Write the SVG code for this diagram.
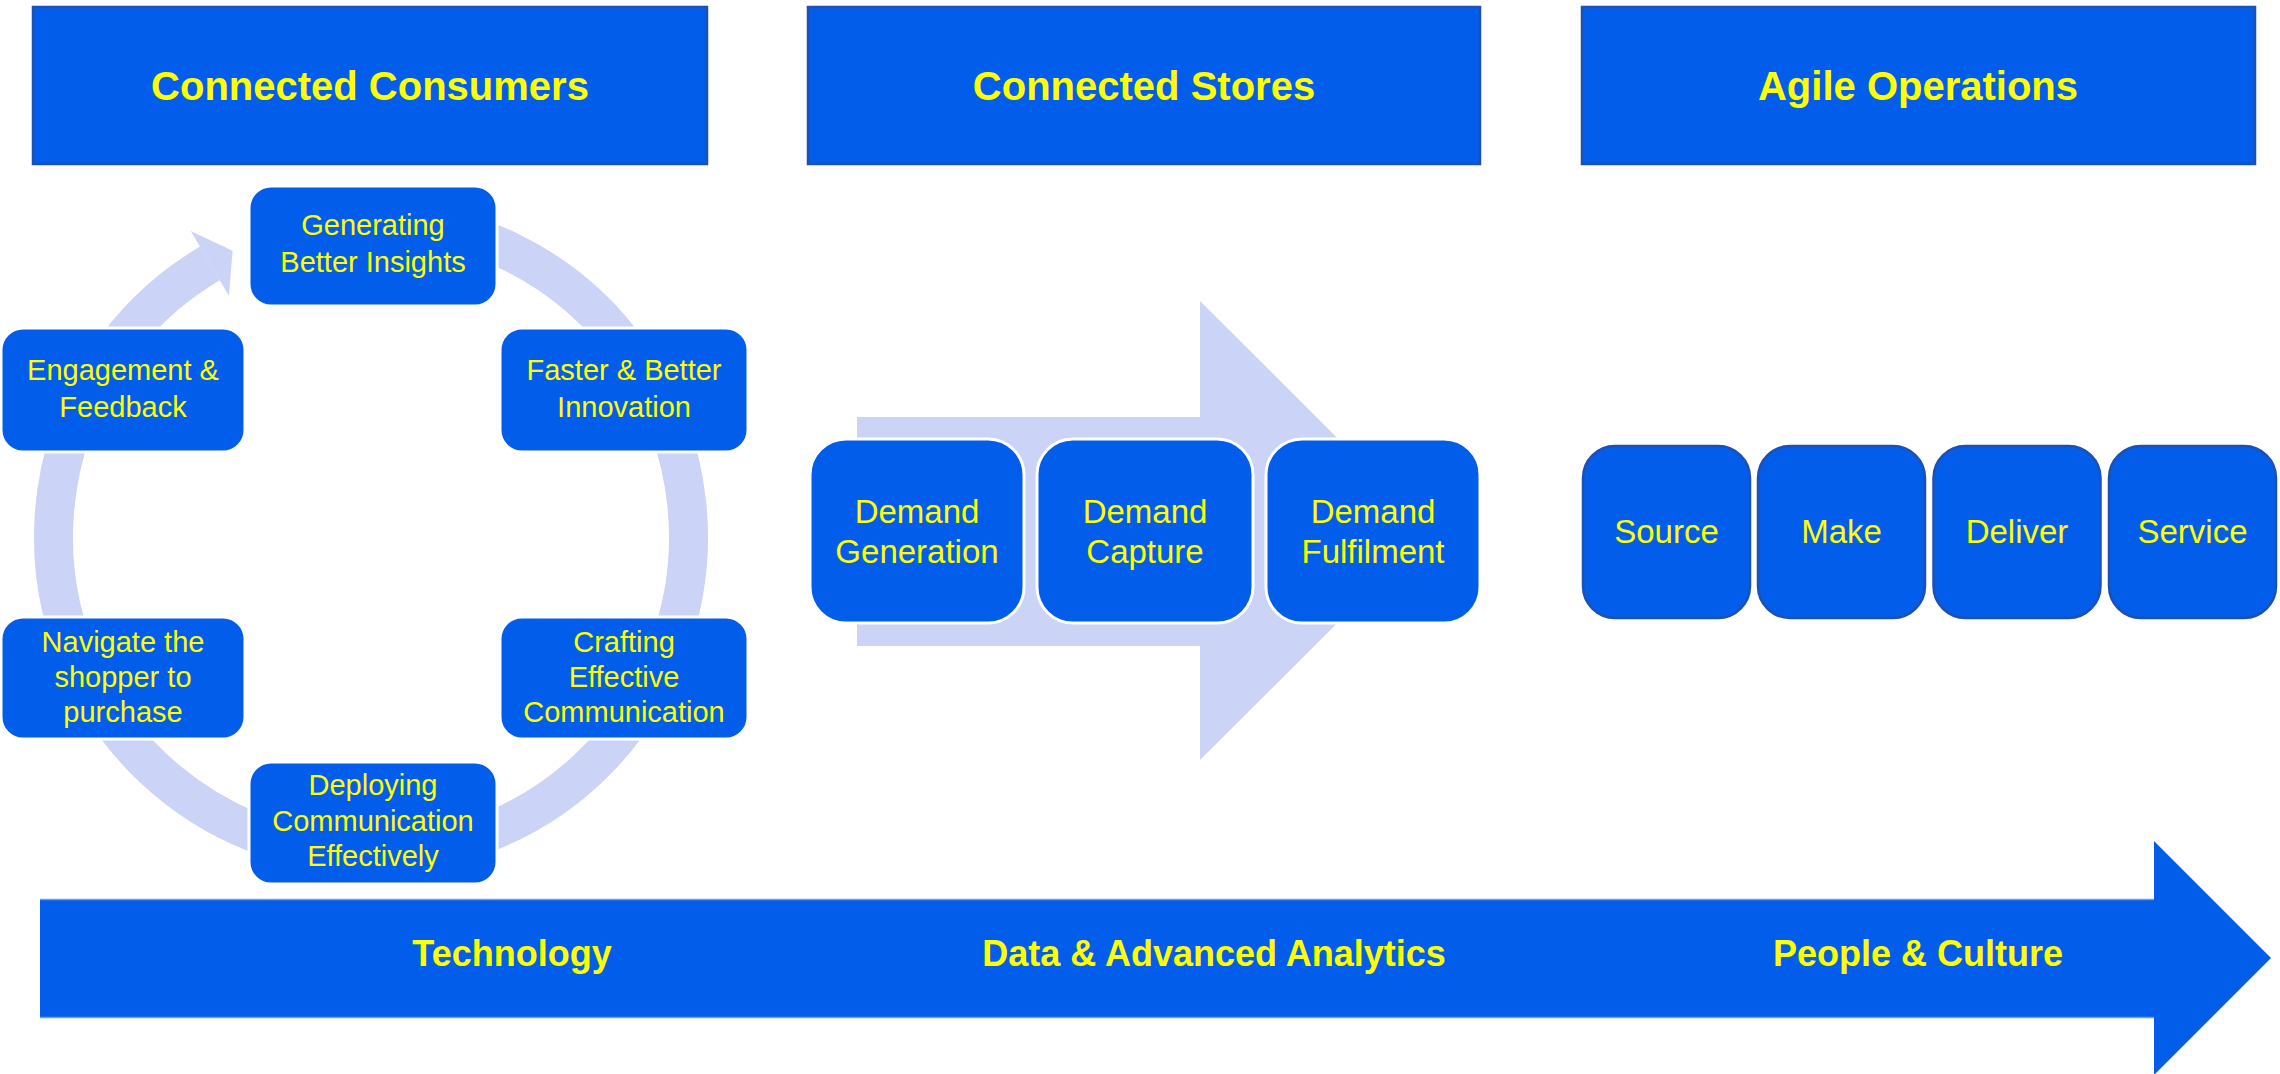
<svg xmlns="http://www.w3.org/2000/svg" width="2280" height="1074" viewBox="0 0 2280 1074">
<style>
.hdr{fill:#025EEA;stroke:#1C50B4;stroke-width:2.5}
.htxt{font-family:"Liberation Sans",Arial,sans-serif;font-weight:bold;font-size:40px;fill:#FFFF00;text-anchor:middle}
.cyc{fill:#025EEA;stroke:#FFFFFF;stroke-width:3}
.ctxt{font-family:"Liberation Sans",Arial,sans-serif;font-size:29px;fill:#FFFF00;text-anchor:middle}
.dem{fill:#025EEA;stroke:#FFFFFF;stroke-width:3}
.dtxt{font-family:"Liberation Sans",Arial,sans-serif;font-size:33px;fill:#FFFF00;text-anchor:middle}
.ops{fill:#025EEA;stroke:#1C50B4;stroke-width:2.5}
.btxt{font-family:"Liberation Sans",Arial,sans-serif;font-weight:bold;font-size:36px;fill:#FFFF00;text-anchor:middle}
.light{fill:#CBD3F6}
</style>

<!-- Header boxes -->
<g id="hdr-consumers">
<rect class="hdr" x="33" y="7" width="674" height="157"/>
<text class="htxt" x="370" y="100">Connected Consumers</text>
</g>
<g id="hdr-stores">
<rect class="hdr" x="808" y="7" width="672" height="157"/>
<text class="htxt" x="1144" y="100">Connected Stores</text>
</g>
<g id="hdr-ops">
<rect class="hdr" x="1582" y="7" width="673" height="157"/>
<text class="htxt" x="1918" y="100">Agile Operations</text>
</g>

<!-- Connectors: cycle ring and stores arrow -->
<g id="connectors">
<path d="M371,219.5 A317.5,317.5 0 1 1 209.9,263.4" fill="none" stroke="#CBD3F6" stroke-width="39"/>
<polygon class="light" points="190.8,231.1 232.6,250.7 228.9,295.8"/>
<polygon class="light" points="857,417 1200,417 1200,301 1430,530.5 1200,760 1200,646 857,646"/>
</g>

<!-- Cycle nodes -->
<g id="n-insights">
<rect class="cyc" x="249" y="186" width="248" height="120" rx="22"/>
<text class="ctxt" x="373" y="235">Generating</text>
<text class="ctxt" x="373" y="272">Better Insights</text>
</g>
<g id="n-innovation">
<rect class="cyc" x="500" y="328" width="248" height="124" rx="22"/>
<text class="ctxt" x="624" y="380">Faster &amp; Better</text>
<text class="ctxt" x="624" y="417">Innovation</text>
</g>
<g id="n-crafting">
<rect class="cyc" x="500" y="617" width="248" height="122" rx="22"/>
<text class="ctxt" x="624" y="652">Crafting</text>
<text class="ctxt" x="624" y="687">Effective</text>
<text class="ctxt" x="624" y="722">Communication</text>
</g>
<g id="n-deploying">
<rect class="cyc" x="249" y="762" width="248" height="122" rx="22"/>
<text class="ctxt" x="373" y="795">Deploying</text>
<text class="ctxt" x="373" y="831">Communication</text>
<text class="ctxt" x="373" y="866">Effectively</text>
</g>
<g id="n-navigate">
<rect class="cyc" x="1" y="617" width="244" height="122" rx="22"/>
<text class="ctxt" x="123" y="652">Navigate the</text>
<text class="ctxt" x="123" y="687">shopper to</text>
<text class="ctxt" x="123" y="722">purchase</text>
</g>
<g id="n-engagement">
<rect class="cyc" x="1" y="328" width="244" height="124" rx="22"/>
<text class="ctxt" x="123" y="380">Engagement &amp;</text>
<text class="ctxt" x="123" y="417">Feedback</text>
</g>

<!-- Demand nodes -->
<g id="n-dgen">
<rect class="dem" x="810" y="439" width="214" height="184" rx="36"/>
<text class="dtxt" x="917" y="523">Demand</text>
<text class="dtxt" x="917" y="563">Generation</text>
</g>
<g id="n-dcap">
<rect class="dem" x="1037" y="439" width="216" height="184" rx="36"/>
<text class="dtxt" x="1145" y="523">Demand</text>
<text class="dtxt" x="1145" y="563">Capture</text>
</g>
<g id="n-dful">
<rect class="dem" x="1266" y="439" width="214" height="184" rx="36"/>
<text class="dtxt" x="1373" y="523">Demand</text>
<text class="dtxt" x="1373" y="563">Fulfilment</text>
</g>

<!-- Operations nodes -->
<g id="n-source">
<rect class="ops" x="1583" y="446" width="167" height="172" rx="32"/>
<text class="dtxt" x="1666.5" y="543">Source</text>
</g>
<g id="n-make">
<rect class="ops" x="1758" y="446" width="167" height="172" rx="32"/>
<text class="dtxt" x="1841.5" y="543">Make</text>
</g>
<g id="n-deliver">
<rect class="ops" x="1933.5" y="446" width="167" height="172" rx="32"/>
<text class="dtxt" x="2017" y="543">Deliver</text>
</g>
<g id="n-service">
<rect class="ops" x="2109" y="446" width="167" height="172" rx="32"/>
<text class="dtxt" x="2192.5" y="543">Service</text>
</g>

<!-- Bottom foundation arrow -->
<g id="n-foundation">
<polygon points="40,899 2154,899 2154,841 2271,958 2154,1075 2154,1018 40,1018" fill="#025EEA"/>
<line x1="40" y1="899.5" x2="2154" y2="899.5" stroke="#6E9BF2" stroke-width="1.5"/>
<line x1="40" y1="1017.5" x2="2154" y2="1017.5" stroke="#6E9BF2" stroke-width="1.5"/>
<text class="btxt" x="512" y="966">Technology</text>
<text class="btxt" x="1214" y="966">Data &amp; Advanced Analytics</text>
<text class="btxt" x="1918" y="966">People &amp; Culture</text>
</g>
</svg>
